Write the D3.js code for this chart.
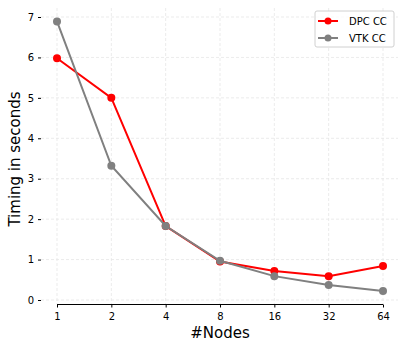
<!DOCTYPE html>
<html>
<head>
<meta charset="utf-8">
<script src="https://cdn.jsdelivr.net/npm/d3@7"></script>
<style>
  body { margin: 0; background: #fff; }
  svg { font-family: "DejaVu Sans", sans-serif; }
</style>
</head>
<body>
<div id="root"></div>
<script>
const nodes = [1, 2, 4, 8, 16, 32, 64]
const dpcTimes = [5.98, 5.0, 1.83, 0.95, 0.72, 0.59, 0.84]
const vtkTimes = [6.89, 3.32, 1.83, 0.97, 0.59, 0.37, 0.22]
const yTicks = [0, 1, 2, 3, 4, 5, 6, 7]

const series = [
  { name: 'DPC CC', color: '#ff0000', values: dpcTimes },
  { name: 'VTK CC', color: '#808080', values: vtkTimes }
]

const graph = { width: 407, height: 349 }

const svg = d3.select('#root')
  .append('svg')
  .attr('width', graph.width)
  .attr('height', graph.height)

const scaleX = d3.scaleLog().base(2)
  .domain([1, 64])
  .range([57, 383])

const scaleY = d3.scaleLinear()
  .domain([0, 7])
  .range([300, 17])

// grid
const grid = svg.append('g')
grid.selectAll('.vgrid')
  .data(nodes)
  .join('line')
  .attr('x1', d => scaleX(d)).attr('x2', d => scaleX(d))
  .attr('y1', 8).attr('y2', 304)
  .attr('stroke', '#e6e6e6').attr('stroke-width', 0.8)
  .attr('stroke-dasharray', '3,2')
grid.selectAll('.hgrid')
  .data(yTicks)
  .join('line')
  .attr('x1', 41).attr('x2', 398)
  .attr('y1', d => scaleY(d)).attr('y2', d => scaleY(d))
  .attr('stroke', '#e6e6e6').attr('stroke-width', 0.8)
  .attr('stroke-dasharray', '3,2')

// x axis
const xAxis = svg.append('g')
  .attr('transform', 'translate(0, 304.5)')
  .call(d3.axisBottom(scaleX).tickValues(nodes).tickFormat(d3.format('d')).tickSize(3).tickSizeOuter(0))
xAxis.select('.domain').attr('stroke', '#000').attr('stroke-width', 1.2)
  .attr('d', `M${scaleX(1)},0H${scaleX(64)}`)
xAxis.selectAll('text').attr('font-size', 10).attr('fill', '#000').attr('dy', '0.9em')
xAxis.attr('font-family', null)

// y axis (no spine)
const yAxis = svg.append('g')
  .attr('transform', 'translate(41, 0)')
  .call(d3.axisLeft(scaleY).tickValues(yTicks).tickFormat(d3.format('d')).tickSize(3))
yAxis.select('.domain').remove()
yAxis.selectAll('text').attr('font-size', 10).attr('fill', '#000').attr('x', -7)
yAxis.attr('font-family', null)

// lines
const line = d3.line()
  .x((d, i) => scaleX(nodes[i]))
  .y(d => scaleY(d))

series.forEach(s => {
  svg.append('path')
    .datum(s.values)
    .attr('d', line)
    .attr('fill', 'none')
    .attr('stroke', s.color)
    .attr('stroke-width', 2)
  svg.append('g').selectAll('circle')
    .data(s.values)
    .join('circle')
    .attr('cx', (d, i) => scaleX(nodes[i]))
    .attr('cy', d => scaleY(d))
    .attr('r', 4)
    .attr('fill', s.color)
})

// axis labels
svg.append('text')
  .attr('x', 220).attr('y', 338)
  .attr('text-anchor', 'middle')
  .attr('font-size', 15)
  .text('#Nodes')

svg.append('text')
  .attr('transform', 'translate(20, 159) rotate(-90)')
  .attr('text-anchor', 'middle')
  .attr('font-size', 15)
  .text('Timing in seconds')

// legend
const legend = svg.append('g')
legend.append('rect')
  .attr('x', 315).attr('y', 11).attr('width', 79).attr('height', 36)
  .attr('rx', 2)
  .attr('fill', '#fff').attr('fill-opacity', 0.8)
  .attr('stroke', '#d0d0d0')
series.forEach((s, i) => {
  const y = 21 + i * 17
  legend.append('line')
    .attr('x1', 318).attr('x2', 338).attr('y1', y).attr('y2', y)
    .attr('stroke', s.color).attr('stroke-width', 2)
  legend.append('circle')
    .attr('cx', 328).attr('cy', y).attr('r', 3.5).attr('fill', s.color)
  legend.append('text')
    .attr('x', 349).attr('y', y).attr('dy', '0.35em')
    .attr('font-size', 10)
    .text(s.name)
})
</script>
</body>
</html>
